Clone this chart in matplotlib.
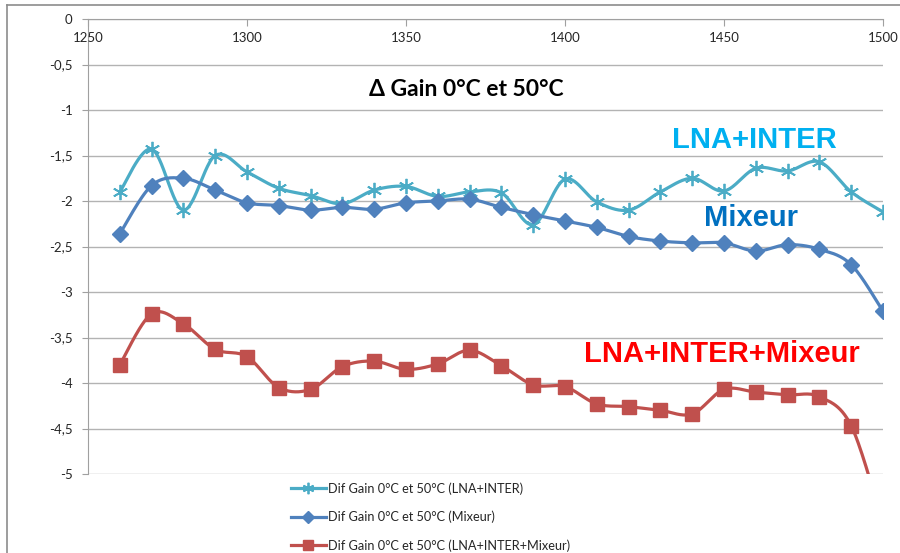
import numpy as np
import matplotlib
matplotlib.use("Agg")
import matplotlib.pyplot as plt
from matplotlib.lines import Line2D

freq = [1260, 1270, 1280, 1290, 1300, 1310, 1320, 1330, 1340, 1350, 1360, 1370, 1380,
        1390, 1400, 1410, 1420, 1430, 1440, 1450, 1460, 1470, 1480, 1490, 1500]
lna_inter = [-1.90, -1.43, -2.10, -1.50, -1.68, -1.86, -1.94, -2.03, -1.88, -1.84, -1.95, -1.90, -1.91,
             -2.26, -1.76, -2.01, -2.10, -1.90, -1.75, -1.89, -1.64, -1.67, -1.57, -1.90, -2.12]
mixeur = [-2.36, -1.83, -1.75, -1.88, -2.02, -2.05, -2.10, -2.07, -2.09, -2.02, -2.00, -1.98, -2.07,
          -2.15, -2.22, -2.29, -2.39, -2.44, -2.46, -2.46, -2.55, -2.48, -2.53, -2.70, -3.21]
lna_inter_mix = [-3.80, -3.24, -3.35, -3.63, -3.71, -4.05, -4.07, -3.82, -3.76, -3.85, -3.79, -3.64, -3.81,
                 -4.02, -4.04, -4.23, -4.26, -4.30, -4.34, -4.07, -4.10, -4.13, -4.15, -4.47, -5.55]

labels = ["Dif Gain 0°C et 50°C (LNA+INTER)",
          "Dif Gain 0°C et 50°C (Mixeur)",
          "Dif Gain 0°C et 50°C (LNA+INTER+Mixeur)"]
title = "Δ Gain 0°C et 50°C"
xticks = [1250, 1300, 1350, 1400, 1450, 1500]
yticks = [0, -0.5, -1, -1.5, -2, -2.5, -3, -3.5, -4, -4.5, -5]


def smooth(x, y, n=30):
    x = np.asarray(x, float)
    y = np.asarray(y, float)
    P = np.column_stack([x, y])
    Pp = np.vstack([P[0], P, P[-1]])
    out = []
    t = np.linspace(0, 1, n)[:, None]
    for i in range(len(P) - 1):
        p0, p1, p2, p3 = Pp[i], Pp[i + 1], Pp[i + 2], Pp[i + 3]
        c1 = p1 + (p2 - p0) / 6.0
        c2 = p2 - (p3 - p1) / 6.0
        seg = ((1 - t) ** 3) * p1 + 3 * ((1 - t) ** 2) * t * c1 + 3 * (1 - t) * t ** 2 * c2 + t ** 3 * p2
        out.append(seg if i == 0 else seg[1:])
    S = np.vstack(out)
    return S[:, 0], S[:, 1]


W, H = 900, 553
fig = plt.figure(figsize=(W / 100, H / 100), dpi=100)
ax = fig.add_axes([88 / W, 1 - 474 / H, (883 - 88) / W, (474 - 19) / H])

series = [
    (lna_inter, "#4bacc6", dict(marker=(6, 2, 0), markersize=11, markeredgewidth=1.3)),
    (mixeur, "#4f81bd", dict(marker="D", markersize=8)),
    (lna_inter_mix, "#c0504d", dict(marker="s", markersize=10)),
]
handles = []
for (vals, col, mk), lab in zip(series, labels):
    sx, sy = smooth(freq, vals)
    ax.plot(sx, sy, color=col, lw=2.3, zorder=3, solid_capstyle="round")
    ax.plot(freq, vals, linestyle="none", color=col, markerfacecolor=col, markeredgecolor=col, zorder=4, **mk)
    handles.append(Line2D([0], [0], color=col, lw=2.3, markerfacecolor=col, markeredgecolor=col,
                          **dict(mk, markersize=mk["markersize"] * 0.75)))

ax.set_xlim(1250, 1500)
ax.set_ylim(-5, 0)
ax.set_xticks(xticks)
ax.set_yticks(yticks)
ax.set_yticklabels([("%g" % v).replace(".", ",") for v in yticks])
ax.xaxis.set_ticks_position("top")
ax.tick_params(axis="x", direction="in", length=5, color="#a0a0a0",
               labeltop=False, labelbottom=False)
for xt in xticks:
    ax.text(xt, -0.21, str(xt), ha="center", va="center", fontsize=9.5, color="#262626",
            family="Lato", zorder=5)
ax.tick_params(axis="y", direction="out", length=4, color="#a0a0a0", labelsize=9.5,
               labelcolor="#262626", pad=7)
for lbl in ax.get_yticklabels():
    lbl.set_family("Lato")
for s in ["right", "bottom"]:
    ax.spines[s].set_visible(False)
ax.spines["left"].set_color("#a0a0a0")
ax.spines["top"].set_color("#a0a0a0")
ax.grid(axis="y", color="#b3b3b3", lw=1.0, zorder=0)
ax.set_axisbelow(True)

ax.text(1369, -0.78, title, ha="center", va="center",
        fontsize=16.5, fontweight="bold", family="Lato", color="#000000")

ax.text(1459.7, -1.33, "LNA+INTER", ha="center", va="center", fontsize=21,
        fontweight="bold", family="Liberation Sans", color="#00b0f0")
ax.text(1458.5, -2.19, "Mixeur", ha="center", va="center", fontsize=21,
        fontweight="bold", family="Liberation Sans", color="#0070c0")
ax.text(1449.4, -3.68, "LNA+INTER+Mixeur", ha="center", va="center", fontsize=21,
        fontweight="bold", family="Liberation Sans", color="#ff0000")

leg = fig.legend(handles, labels, loc="upper left", bbox_to_anchor=(291 / W, 1 - 482 / H),
                 frameon=False, prop=dict(family="Lato", size=9.2), handlelength=2.7,
                 handletextpad=0.2, labelspacing=1.25, borderaxespad=0, borderpad=0)
for t in leg.get_texts():
    t.set_color("#262626")

# outer chart border
fig.add_artist(Line2D([7 / W, 1], [1 - 5 / H, 1 - 5 / H], color="#8c8c8c", lw=1.2))
fig.add_artist(Line2D([7 / W, 7 / W], [0, 1 - 5 / H], color="#8c8c8c", lw=1.2))

fig.savefig("out.png", dpi=100)
